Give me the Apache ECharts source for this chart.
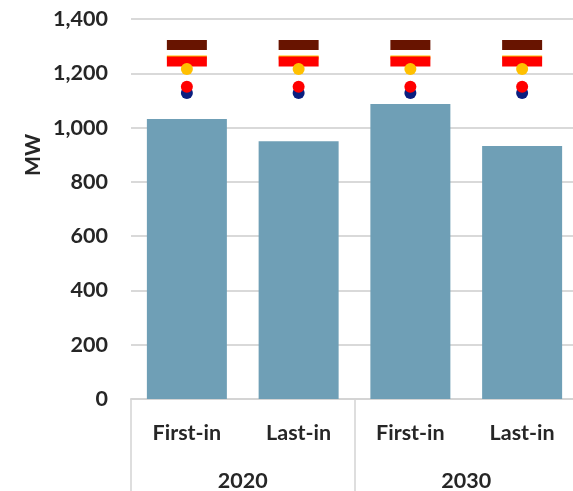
<!DOCTYPE html>
<html><head><meta charset="utf-8">
<style>html,body{margin:0;padding:0;background:#fff;overflow:hidden}#c{width:573px;height:491px}</style>
<script src="https://cdn.jsdelivr.net/npm/echarts@6/dist/echarts.min.js"></script>
</head><body><div id="c"></div>
<script>
const categories = ['First-in','Last-in','First-in','Last-in'];
const years = ['2020','2030'];
const yTicks = {min:0,max:1400,interval:200};
const barValues = [1032,950,1087,932];
const darkRedBar = [1304,1304,1304,1304];
const orangeBar = [1258,1258,1258,1258];
const redBar = [1243,1243,1243,1243];
const orangeDot = [1216,1216,1216,1216];
const redDot = [1150,1150,1150,1150];
const navyDot = [1127,1127,1127,1127];

const font = 'Lato, sans-serif';
const txt = {color:'#262626',fontFamily:font,fontWeight:'bold',fontSize:21.5};
const chart = echarts.init(document.getElementById('c'),null,{renderer:'canvas'});
const scatter = (name,data,color,symbol,size) => ({
  name,type:'scatter',data,symbol,symbolSize:size,
  itemStyle:{color,opacity:1},silent:true,animation:false
});
chart.setOption({
  animation:false,
  backgroundColor:'#fff',
  grid:{left:131,top:19,width:447,height:380,containLabel:false,outerBoundsMode:'none'},
  xAxis:[
    {type:'category',data:categories,position:'bottom',
     axisLine:{show:true,lineStyle:{color:'#d4d4d4',width:2}},
     axisTick:{show:false},
     axisLabel:{...txt,margin:23,interval:0}},
    {type:'category',data:years,position:'bottom',
     axisLine:{show:false},
     axisTick:{show:true,length:92,lineStyle:{color:'#d4d4d4',width:1.5}},
     axisLabel:{...txt,margin:71,interval:0},
     splitLine:{show:false}}
  ],
  yAxis:{type:'value',...yTicks,
    axisLine:{show:false},axisTick:{show:false},
    splitLine:{show:true,lineStyle:{color:'#d9d9d9',width:2}},
    axisLabel:{...txt,margin:23,formatter:v=>v.toLocaleString('en-US')}},
  series:[
    {name:'MW',type:'bar',data:barValues,barWidth:80,itemStyle:{color:'#6f9fb6'},z:2},
    scatter('Dark red',darkRedBar,'#681400','rect',[40,10]),
    scatter('Orange bar',orangeBar,'#ffc000','rect',[40,4]),
    scatter('Red bar',redBar,'#ff0000','rect',[40,10]),
    {...scatter('Navy dot',navyDot,'#0b1f80','circle',12),z:3},
    {...scatter('Red dot',redDot,'#ff0000','circle',12),z:4},
    {...scatter('Orange dot',orangeDot,'#ffc000','circle',12),z:4}
  ],
  graphic:[{type:'text',x:33,y:155,rotation:Math.PI/2,
    style:{text:'MW',fill:'#262626',font:'bold 21px Lato, sans-serif',align:'center',verticalAlign:'middle'}}]
});
</script></body></html>
